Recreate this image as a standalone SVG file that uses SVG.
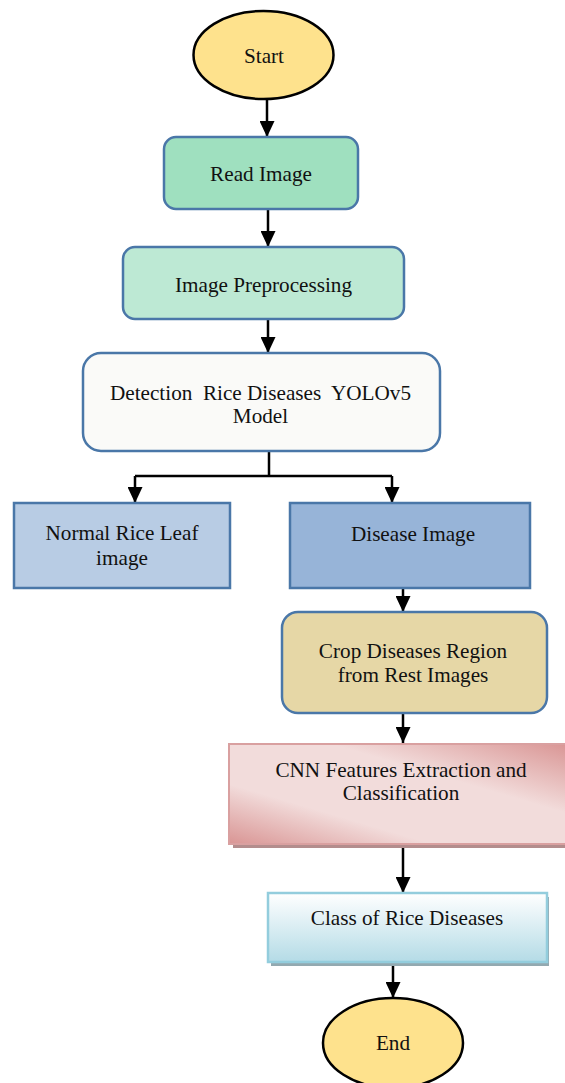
<svg xmlns="http://www.w3.org/2000/svg" width="565" height="1083" viewBox="0 0 565 1083">
<style>
text{font-family:"Liberation Serif","Times New Roman",serif;font-size:21.2px;fill:#111;text-anchor:middle;white-space:pre}
.conn{stroke:#000;stroke-width:2.5;fill:none}
.blue{stroke:#4a77a8;stroke-width:2.5}
.term{fill:#fee28d;stroke:#000;stroke-width:2.5}
</style>
<defs>
<marker id="ah" markerUnits="userSpaceOnUse" markerWidth="16" markerHeight="15" refX="16" refY="7.5" orient="auto">
<path d="M0,0 L16,7.5 L0,15 z" fill="#000"/>
</marker>
<linearGradient id="pink" x1="0" y1="1" x2="1" y2="0">
<stop offset="0" stop-color="#d99594"/>
<stop offset="0.3" stop-color="#f2dcdb"/>
<stop offset="0.65" stop-color="#f2dcdb"/>
<stop offset="1" stop-color="#d99594"/>
</linearGradient>
<linearGradient id="cyan" x1="0" y1="0" x2="0" y2="1">
<stop offset="0" stop-color="#ffffff"/>
<stop offset="1" stop-color="#b4dbe6"/>
</linearGradient>
</defs>
<g id="connectors">
<line class="conn" x1="267" y1="99" x2="267" y2="137" marker-end="url(#ah)"/>
<line class="conn" x1="268" y1="209" x2="268" y2="247" marker-end="url(#ah)"/>
<line class="conn" x1="268" y1="319" x2="268" y2="353" marker-end="url(#ah)"/>
<polyline class="conn" points="269,451 269,476"/>
<polyline class="conn" points="135,476 392,476"/>
<line class="conn" x1="135" y1="476" x2="135" y2="503" marker-end="url(#ah)"/>
<line class="conn" x1="392" y1="476" x2="392" y2="503" marker-end="url(#ah)"/>
<line class="conn" x1="403" y1="573" x2="403" y2="612" marker-end="url(#ah)"/>
<line class="conn" x1="403" y1="713" x2="403" y2="743" marker-end="url(#ah)"/>
<line class="conn" x1="403" y1="845" x2="403" y2="893" marker-end="url(#ah)"/>
<line class="conn" x1="393" y1="962" x2="393" y2="998" marker-end="url(#ah)"/>
</g>
<g id="start">
<ellipse class="term" cx="263.5" cy="55" rx="70" ry="44"/>
<text x="264" y="63">Start</text>
</g>
<g id="read-image">
<rect class="blue" x="164" y="137" width="194" height="72" rx="12" fill="#9fe0bf"/>
<text x="261" y="181">Read Image</text>
</g>
<g id="preprocessing">
<rect class="blue" x="123" y="247" width="281" height="72" rx="12" fill="#bde9d4"/>
<text x="263.5" y="292">Image Preprocessing</text>
</g>
<g id="detection">
<rect class="blue" x="83" y="353" width="357" height="98" rx="18" fill="#fafaf8"/>
<text x="260.5" y="400">Detection  Rice Diseases  YOLOv5</text>
<text x="260.5" y="423">Model</text>
</g>
<g id="normal">
<rect class="blue" x="14" y="503" width="216" height="85" fill="#b8cce4"/>
<text x="122" y="540">Normal Rice Leaf</text>
<text x="122" y="565">image</text>
</g>
<g id="disease">
<rect class="blue" x="290" y="503" width="240" height="85" fill="#97b4d8"/>
<text x="413" y="541">Disease Image</text>
</g>
<g id="crop">
<rect class="blue" x="282" y="612" width="265" height="101" rx="16" fill="#e6d7a6"/>
<text x="413" y="658">Crop Diseases Region</text>
<text x="413" y="682">from Rest Images</text>
</g>
<g id="cnn">
<rect x="233" y="748" width="336" height="100" fill="#b38d8d"/>
<rect x="229" y="744" width="340" height="100" fill="url(#pink)" stroke="#d9a0a0" stroke-width="2"/>
<text x="401" y="777">CNN Features Extraction and</text>
<text x="401" y="800">Classification</text>
</g>
<g id="class">
<rect x="271" y="897" width="278" height="69" fill="#93a9b0"/>
<rect x="268" y="893" width="279" height="69" fill="url(#cyan)" stroke="#93cddd" stroke-width="2.5"/>
<text x="407" y="925">Class of Rice Diseases</text>
</g>
<g id="end">
<ellipse class="term" cx="393" cy="1043" rx="70" ry="45"/>
<text x="393" y="1050">End</text>
</g>
</svg>
